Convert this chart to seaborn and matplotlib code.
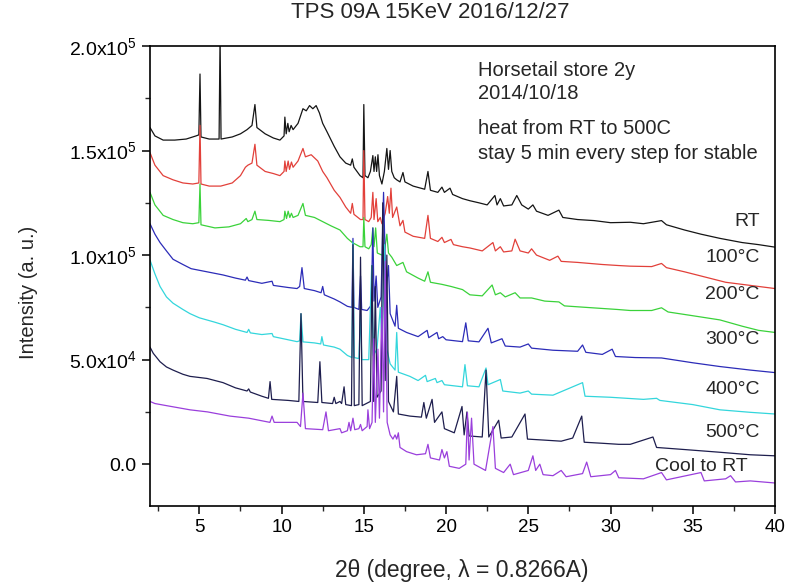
import matplotlib
matplotlib.use("Agg")
import matplotlib.pyplot as plt
import matplotlib.ticker as mticker
import numpy as np
import pandas as pd
import seaborn as sns

# ---- data (2theta, intensity in units of 1e3) ----
rt_x = [2.0, 2.3, 2.8, 3.5, 4.2, 4.8, 4.97, 5.04, 5.1, 5.6, 6.2, 6.26, 6.32, 7.0, 7.5, 7.9, 8.2, 8.38, 8.5,
        9.0, 9.5, 9.9, 10.15, 10.2, 10.28, 10.38, 10.46, 10.58, 10.7, 11.0, 11.3, 11.5, 11.7, 11.9, 12.1, 12.3,
        12.5, 12.76, 13.2, 13.55, 13.9, 14.2, 14.3, 14.4, 14.77, 14.95, 15.0, 15.07, 15.25, 15.4, 15.55, 15.62,
        15.7, 15.78, 15.86, 15.95, 16.1, 16.25, 16.4, 16.5, 16.6, 16.7, 16.85, 17.0, 17.2, 17.38, 17.5, 18.0,
        18.7, 18.9, 19.05, 19.5, 19.75, 19.9, 20.24, 20.4, 21.0, 21.45, 22.0, 22.5, 22.97, 23.1, 23.3, 23.5,
        24.0, 24.3, 24.6, 25.0, 25.28, 25.5, 26.2, 26.86, 27.1, 28.0, 29.0, 30.0, 31.2, 32.0, 33.1, 33.4, 34.5,
        35.5, 36.65, 38.0, 39.0, 40.0]
rt_y = [161, 157, 155, 155, 155.5, 157, 157.5, 186.6, 156.5, 155.5, 155.5, 205, 155.5, 156.5, 158, 160, 162,
        172, 161, 158, 156, 155, 157, 166, 158, 163, 159, 162, 160, 163, 170, 169, 171.5, 170, 171.5, 168, 163,
        159, 152, 147, 144, 143, 146, 142, 138, 137, 172, 138, 137, 140, 147.6, 140, 147, 140, 148, 138, 134,
        140, 151, 141, 150, 140, 137, 136, 135, 139.5, 135, 133, 131.5, 140, 131, 130, 132.5, 130, 132, 129,
        127, 126, 125, 124, 128.5, 124, 127, 123.5, 124, 128.5, 124, 122, 124, 121, 119, 121.5, 118, 117,
        116.5, 115.5, 115.7, 115, 116.5, 114.5, 112, 110, 108, 106, 105, 103.8]

c100_x = [2.0, 2.3, 2.8, 3.4, 4.0, 4.6, 4.97, 5.04, 5.1, 5.6, 6.3, 7.0, 7.5, 7.8, 7.95, 8.2, 8.38, 8.5, 9.0,
          9.5, 9.9, 10.15, 10.2, 10.28, 10.4, 10.48, 10.6, 10.7, 11.0, 11.3, 11.45, 11.8, 12.2, 12.5, 12.76,
          13.2, 13.55, 13.9, 14.2, 14.3, 14.4, 14.8, 14.95, 15.0, 15.07, 15.3, 15.45, 15.55, 15.62, 15.75,
          15.85, 16.0, 16.1, 16.3, 16.45, 16.55, 16.65, 16.75, 16.9, 17.0, 17.2, 17.38, 17.5, 18.0, 18.7,
          18.9, 19.05, 19.5, 19.75, 19.9, 20.3, 20.45, 21.0, 21.45, 22.2, 22.85, 23.0, 23.3, 23.5, 24.0, 24.2,
          24.5, 25.0, 25.2, 25.5, 26.3, 26.8, 27.0, 28.0, 29.5, 30.5, 31.2, 32.5, 33.1, 33.4, 34.5, 36.0,
          37.0, 38.5, 40.0]
c100_y = [149, 143, 138, 136, 134.5, 134, 134.5, 162, 134, 133, 133, 134.5, 138, 142, 143, 144, 153, 143, 140,
          139, 138, 140, 145, 140, 145, 141, 144.5, 142, 145, 151, 147, 148, 145, 140, 137, 131, 127.6, 123,
          120, 124.7, 119.5, 117, 117, 150, 117, 116, 118, 130, 117, 127, 116, 118, 115, 120, 128, 120, 132,
          118, 121, 123, 114, 116.6, 111, 109, 108, 119, 108, 106.5, 108.5, 106, 107.5, 105, 104, 103.4, 102,
          106, 102, 104, 101.5, 102, 107.6, 102, 101, 103, 100, 97.5, 99.5, 97, 96.5, 95.5, 95, 94.7, 94.5, 96,
          94, 92, 89, 87, 85.5, 84]

c200_x = [2.0, 2.3, 2.8, 3.4, 4.0, 4.6, 4.97, 5.04, 5.1, 5.95, 6.8, 7.5, 7.85, 7.95, 8.2, 8.38, 8.5, 9.2, 9.9,
          10.15, 10.2, 10.3, 10.4, 10.5, 10.6, 10.7, 11.0, 11.3, 11.45, 12.0, 12.5, 13.0, 13.55, 14.0, 14.3,
          14.77, 14.95, 15.0, 15.07, 15.3, 15.45, 15.55, 15.62, 15.72, 15.82, 16.1, 16.25, 16.4, 16.5, 16.7,
          17.0, 17.38, 17.6, 18.3, 18.7, 18.9, 19.05, 19.75, 20.3, 21.0, 21.45, 22.2, 22.8, 23.0, 23.3, 23.6,
          24.2, 24.5, 25.2, 26.0, 26.86, 27.2, 28.5, 30.4, 31.2, 32.5, 33.1, 33.5, 35.0, 36.65, 38.0, 39.0, 40.0]
c200_y = [130, 124, 119, 117, 115.5, 115, 115.5, 134, 114.5, 113, 113.5, 115, 117.5, 116, 117, 121, 117, 116.6,
          116, 117, 121, 117.5, 121, 118, 120, 118, 119, 124.7, 119, 118, 116, 114, 112, 108, 106, 104, 104,
          118, 104, 103, 105, 113, 104, 113, 101, 100, 102, 110, 101, 99, 95, 96.5, 92, 89, 87.5, 92, 87, 86,
          85, 83.5, 81, 80.5, 85.7, 81, 82, 80, 82, 79.5, 79.5, 78, 77.6, 75.7, 75, 74, 73.5, 73.5, 74.8, 72.8,
          71, 69, 66, 64, 63]

c300_x = [2.0, 2.3, 2.61, 3.0, 3.4, 4.0, 4.5, 5.47, 6.44, 7.2, 7.8, 7.9, 8.0, 8.8, 9.42, 9.5, 10.4, 10.94, 11.1,
          11.24, 11.38, 12.0, 12.4, 12.5, 12.6, 13.2, 13.55, 14.0, 14.28, 14.34, 14.4, 14.7, 14.8, 14.87, 15.2,
          15.45, 15.55, 15.62, 15.75, 15.85, 16.05, 16.2, 16.35, 16.5, 16.6, 16.9, 17.0, 17.1, 17.6, 18.3,
          18.85, 18.95, 19.45, 19.55, 19.8, 20.0, 21.0, 21.2, 21.35, 22.0, 22.55, 22.75, 23.4, 23.6, 24.5,
          25.0, 25.2, 26.5, 28.0, 28.3, 28.5, 29.5, 30.1, 30.3, 31.5, 33.1, 35.0, 36.65, 38.5, 40.0]
c300_y = [115, 110, 106, 102, 98, 95.5, 93.5, 92, 90.5, 89, 88, 89.5, 87.8, 86.5, 87.5, 85.5, 84.5, 84, 85,
          94, 84, 83, 82, 85, 81, 79, 77.6, 75.5, 75, 108, 75, 74, 90, 74, 73.5, 76, 113, 78, 90, 75, 80, 130,
          82, 95, 72, 66, 76, 65, 63, 61, 64, 60.5, 63, 60, 61, 59.5, 58.6, 67.6, 59, 58.5, 65, 58, 60, 56.5,
          56, 57.5, 55.5, 54.5, 54, 57, 53.5, 52.5, 55, 51.5, 51, 50.8, 48.5, 46.7, 45, 43.8]

c400_x = [2.0, 2.3, 2.61, 3.0, 3.4, 4.0, 4.43, 5.0, 5.9, 6.44, 7.2, 7.9, 8.0, 8.1, 8.8, 9.42, 9.5, 10.4, 10.94,
          11.1, 11.18, 11.3, 12.0, 12.38, 12.45, 12.55, 13.2, 13.55, 14.0, 14.28, 14.34, 14.42, 14.7, 14.8,
          14.88, 15.3, 15.48, 15.58, 15.8, 16.0, 16.1, 16.25, 16.4, 16.6, 16.9, 17.0, 17.1, 17.8, 18.3, 18.75,
          18.85, 19.35, 19.45, 19.75, 19.9, 21.0, 21.15, 21.3, 22.0, 22.43, 22.55, 23.3, 23.45, 24.5, 25.0,
          25.2, 26.5, 28.3, 28.45, 30.0, 32.0, 32.8, 33.0, 35.0, 36.65, 38.5, 40.0]
c400_y = [97.6, 91, 85, 80, 77, 74, 72, 70, 68, 66.7, 64.5, 63, 64.5, 62.8, 62, 62.5, 61, 59.5, 58.6, 59, 72,
          58.5, 58, 57.5, 61, 57, 56, 55, 52, 51, 106, 51, 50.5, 72, 50, 50, 95, 52, 55, 75, 58, 105, 55, 48,
          45, 63, 44, 42, 40, 42.5, 39.5, 41, 39, 40, 38, 37, 47.6, 37.5, 37, 46, 38, 40.5, 35, 34, 35, 33.5,
          33, 39, 32.5, 32, 31, 31.5, 30.5, 28.5, 26, 24.8, 24]

c500_x = [2.0, 2.2, 2.61, 3.0, 3.4, 4.0, 4.43, 5.47, 6.44, 7.2, 7.9, 8.0, 8.1, 8.8, 9.2, 9.3, 9.4, 10.4, 11.05,
          11.18, 11.3, 12.2, 12.33, 12.45, 13.1, 13.2, 13.3, 13.55, 13.65, 13.8, 13.9, 14.25, 14.34, 14.42,
          14.7, 14.8, 14.9, 15.4, 15.5, 15.6, 15.7, 15.8, 16.05, 16.15, 16.3, 16.4, 16.5, 16.8, 17.0, 17.1,
          17.8, 18.5, 18.65, 18.8, 19.15, 19.3, 19.75, 19.9, 20.5, 20.97, 21.1, 21.27, 21.4, 22.2, 22.43, 22.6,
          23.2, 23.35, 24.0, 24.8, 24.95, 26.0, 27.0, 27.7, 28.25, 28.4, 29.5, 30.5, 31.2, 32.58, 32.8, 34.5,
          36.65, 38.5, 40.0]
c500_y = [56, 53, 49, 46.5, 45, 43, 42, 41, 39, 36.5, 35, 36, 34.5, 32.5, 31.5, 39.5, 31, 30.5, 30, 72, 30,
          29.5, 49, 29.5, 29, 32, 29, 30, 29, 37, 28.5, 28, 105, 28, 28.5, 99, 28, 30, 95, 30, 85, 32, 35, 125,
          40, 100, 30, 25, 42, 24, 23, 22.5, 29.5, 22, 31, 20, 25, 17, 15, 27.6, 14, 25, 13.5, 13, 45, 13, 21,
          12.5, 13, 24, 12, 11.5, 11, 12.5, 23, 10.5, 10, 9.5, 9.5, 13, 8, 7, 5.7, 4.5, 4]

cool_x = [2.0, 2.3, 3.0, 4.43, 5.5, 6.86, 8.0, 9.29, 9.42, 9.55, 10.94, 11.15, 11.3, 11.45, 12.5, 12.7, 12.85,
          13.55, 13.65, 14.0, 14.1, 14.2, 14.34, 14.45, 14.7, 14.8, 14.9, 15.2, 15.25, 15.35, 15.5, 15.6, 15.7,
          15.86, 15.95, 16.1, 16.2, 16.3, 16.42, 16.6, 16.77, 16.9, 17.0, 17.1, 17.2, 17.6, 18.2, 18.75, 18.9,
          19.05, 19.6, 19.75, 19.9, 20.05, 20.2, 20.8, 21.2, 21.3, 21.4, 21.55, 21.7, 22.4, 22.85, 23.0, 23.5,
          23.9, 24.1, 25.0, 25.28, 25.45, 25.7, 25.9, 26.5, 27.0, 27.3, 28.3, 28.55, 28.8, 30.0, 30.3, 30.5,
          32.0, 33.1, 33.4, 35.5, 35.7, 37.0, 37.3, 37.6, 38.5, 40.0]
cool_y = [30, 29, 28, 26, 25, 23, 22, 20, 23, 20, 20, 18, 34, 17, 16.5, 25, 16, 17, 15, 16, 20, 16, 22, 16.5,
          17, 19, 16, 18, 26, 17, 20, 60, 20, 55, 22, 75, 25, 97, 20, 14, 12, 14, 12, 15, 8, 6, 4.5, 5, 9.5, 3,
          2, 7, 3, 6, -1, -2, 0, 24.7, 2, 22, 0, -3, 18, -2, -4, 0, -5, -3, 4, -3, 0, -5, -5.5, -3, -6, -4.5, 1,
          -6, -5, -3, -6.5, -7, -4, -7.5, -4, -8, -7, -5.5, -8.5, -8, -9]

names = ["RT", "100", "200", "300", "400", "500", "cool"]
labels = ["RT", "100°C", "200°C", "300°C", "400°C", "500°C", "Cool to RT"]
colors = ["#151515", "#e2403a", "#3ad23a", "#2c2cb8", "#33d6dc", "#1e1e4e", "#9a3fdc"]
label_y = [116.2, 99.0, 81.0, 59.5, 35.7, 15.2, -1.0]   # 1e3 units

ytick_vals = [0, 50000, 100000, 150000, 200000]
ytick_labels = ["0.0", r"5.0x10$^4$", r"1.0x10$^5$", r"1.5x10$^5$", r"2.0x10$^5$"]
xtick_vals = [5, 10, 15, 20, 25, 30, 35, 40]

traces = [(rt_x, rt_y), (c100_x, c100_y), (c200_x, c200_y), (c300_x, c300_y),
          (c400_x, c400_y), (c500_x, c500_y), (cool_x, cool_y)]

frames = []
for name, (xs, ys) in zip(names, traces):
    frames.append(pd.DataFrame({"x": xs, "y": np.array(ys) * 1000, "T": name}))
df = pd.concat(frames, ignore_index=True)

sns.set_style("ticks")
plt.rcParams["font.family"] = ["Liberation Sans", "DejaVu Sans"]
plt.rcParams["mathtext.fontset"] = "custom"
plt.rcParams["mathtext.rm"] = "Liberation Sans"
plt.rcParams["mathtext.it"] = "Liberation Sans:italic"

fig = plt.figure(figsize=(7.89, 5.84), dpi=100)
ax = fig.add_axes([150 / 789, 1 - 506 / 584, 625 / 789, 460 / 584])

sns.lineplot(data=df, x="x", y="y", hue="T", hue_order=names, palette=colors,
             estimator=None, sort=False, linewidth=0.9, legend=False, ax=ax)

ax.set_xlim(2, 40)
ax.set_ylim(-20000, 200000)
ax.xaxis.set_major_locator(mticker.FixedLocator(xtick_vals))
ax.xaxis.set_minor_locator(mticker.MultipleLocator(2.5))
ax.yaxis.set_major_locator(mticker.FixedLocator(ytick_vals))
ax.yaxis.set_major_formatter(mticker.FixedFormatter(ytick_labels))
ax.yaxis.set_minor_locator(mticker.MultipleLocator(25000))
ax.tick_params(which="major", direction="out", length=6, width=1.1, labelsize=13.5, colors="black")
ax.tick_params(axis="y", which="major", labelsize=14)
ax.tick_params(which="minor", direction="out", length=3.5, width=1.0)
for sp in ax.spines.values():
    sp.set_visible(True)
    sp.set_linewidth(1.2)
    sp.set_color("black")
ax.set_xlabel("")
ax.set_ylabel("")

for lab, ly in zip(labels, label_y):
    xr = 38.35 if lab.startswith("Cool") else 39.08
    ax.text(xr, ly * 1000, lab, ha="right", va="center", fontsize=14)

notes = ["Horsetail store 2y", "2014/10/18", "heat from RT to 500C", "stay 5 min every step for stable"]
note_y = [188.1, 177.1, 160.5, 148.6]
for t, ny in zip(notes, note_y):
    ax.text(21.94, ny * 1000, t, ha="left", va="center", fontsize=14.5)

fig.text(430 / 789, 1 - 13 / 584, "TPS 09A 15KeV 2016/12/27", ha="center", va="center", fontsize=16)
fig.text(28 / 789, 1 - 292 / 584, "Intensity (a. u.)", rotation=90, ha="center", va="center", fontsize=14.5)
fig.text(462 / 789, 1 - 571 / 584, "2θ (degree, λ = 0.8266A)", ha="center", va="center", fontsize=16.5)

fig.savefig("out.png", dpi=100)
